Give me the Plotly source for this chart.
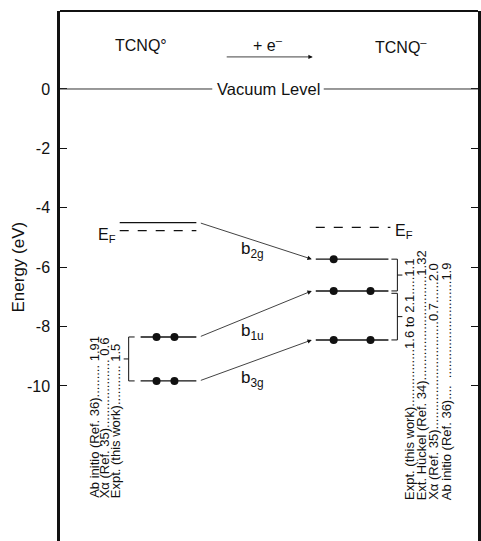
import plotly.graph_objects as go

# ---- orbital energies (eV, relative to the vacuum level) ----
orbitals = ["b2g", "b1u", "b3g"]
neutral_energy = [-4.50, -8.35, -9.83]
anion_energy = [-5.73, -6.80, -8.45]
neutral_occupancy = [0, 2, 2]
anion_occupancy = [1, 2, 2]
fermi_neutral = -4.77
fermi_anion = -4.66
vacuum_level = 0.0
energy_ticks = [0, -2, -4, -6, -8, -10]
energy_tick_text = ["0", "-2", "-4", "-6", "-8", "-10"]

# ---- quoted gaps (eV) ----
neutral_gap_sources = ["Ab initio (Ref. 36)", "Xα (Ref. 35)", "Expt. (this work)"]
neutral_gap_values = ["1.91", "0.6", "1.5"]
anion_gap_sources = ["Expt. (this work)", "Ext. Hückel (Ref. 34)", "Xα (Ref. 35)", "Ab initio (Ref. 36)"]
anion_gap_lower = ["1.6 to 2.1", "", "0.7", ""]
anion_gap_upper = ["1.1", "1.32", "2.0", "1.9"]

FONT = "Liberation Sans, Arial, Helvetica, sans-serif"
INK = "#111111"

# horizontal layout (x axis runs in plot units 60..480)
X_MIN, X_MAX = 60, 480
N_LUMO = (120, 197)          # neutral empty level and E_F
N_OCC = (141, 197)           # neutral filled levels
N_DOTS = [157, 175]
A_LVL = (317, 390)           # anion levels
A_EF = (317, 392)
A_DOTS = [335, 372]
ARROW_FROM, ARROW_TO = 200, 313

fig = go.Figure()


def level(x0, x1, e, dash="solid", width=1.4):
    fig.add_trace(go.Scatter(x=[x0, x1], y=[e, e], mode="lines",
                             line=dict(color=INK, width=width, dash=dash),
                             hoverinfo="skip", showlegend=False))


# neutral molecule levels
level(*N_LUMO, neutral_energy[0])
level(*N_LUMO, fermi_neutral, dash="dash")
for e in neutral_energy[1:]:
    level(*N_OCC, e)
# anion levels
level(*A_EF, fermi_anion, dash="dash")
for e in anion_energy:
    level(*A_LVL, e)

# electrons
dot_x, dot_y = [], []
for e, n in zip(neutral_energy, neutral_occupancy):
    for k in range(n):
        dot_x.append(N_DOTS[k]); dot_y.append(e)
for e, n in zip(anion_energy, anion_occupancy):
    for k in range(n):
        dot_x.append(A_DOTS[k]); dot_y.append(e)
fig.add_trace(go.Scatter(x=dot_x, y=dot_y, mode="markers",
                         marker=dict(color=INK, size=8), hoverinfo="skip",
                         showlegend=False))

annotations = []
shapes = []

# correlation arrows neutral -> anion
orbital_labels = {"b2g": "b<sub>2g</sub>", "b1u": "b<sub>1u</sub>", "b3g": "b<sub>3g</sub>"}
label_offset = [0.30, 0.62, 0.64]
for name, e0, e1, off in zip(orbitals, neutral_energy, anion_energy, label_offset):
    annotations.append(dict(x=ARROW_TO, y=e1, ax=ARROW_FROM, ay=e0, xref="x", yref="y",
                            axref="x", ayref="y", text="", showarrow=True,
                            arrowhead=2, arrowsize=1.1, arrowwidth=0.8,
                            arrowcolor=INK, standoff=0, startstandoff=0))
    annotations.append(dict(x=240, y=(e0 + e1) / 2 - off, xref="x", yref="y",
                            text=orbital_labels[name], showarrow=False,
                            xanchor="left", yanchor="middle",
                            font=dict(size=17, color=INK, family=FONT)))

# vacuum level line broken by its label
shapes.append(dict(type="line", x0=X_MIN, x1=213, y0=vacuum_level, y1=vacuum_level,
                   xref="x", yref="y", line=dict(color="#333", width=1)))
shapes.append(dict(type="line", x0=325, x1=X_MAX, y0=vacuum_level, y1=vacuum_level,
                   xref="x", yref="y", line=dict(color="#333", width=1)))
annotations.append(dict(x=269, y=vacuum_level, xref="x", yref="y", text="Vacuum Level",
                        showarrow=False, font=dict(size=16.5, color=INK, family=FONT)))

# species headings and the reduction arrow
annotations.append(dict(x=141, y=1.45, xref="x", yref="y", text="TCNQ°", showarrow=False,
                        font=dict(size=16, color=INK, family=FONT)))
annotations.append(dict(x=403, y=1.45, xref="x", yref="y", text="TCNQ<sup>–</sup>",
                        showarrow=False, font=dict(size=16, color=INK, family=FONT)))
annotations.append(dict(x=269, y=1.52, xref="x", yref="y", text="+ e<sup>–</sup>",
                        showarrow=False, font=dict(size=16, color=INK, family=FONT)))
annotations.append(dict(x=314, y=1.08, ax=226, ay=1.08, xref="x", yref="y",
                        axref="x", ayref="y", text="", showarrow=True, arrowhead=2,
                        arrowsize=1.1, arrowwidth=0.8, arrowcolor=INK, standoff=0))

# Fermi level labels
annotations.append(dict(x=118, y=fermi_neutral - 0.15, xref="x", yref="y",
                        text="E<sub>F</sub>", showarrow=False, xanchor="right",
                        font=dict(size=16, color=INK, family=FONT)))
annotations.append(dict(x=395, y=fermi_anion - 0.15, xref="x", yref="y",
                        text="E<sub>F</sub>", showarrow=False, xanchor="left",
                        font=dict(size=16, color=INK, family=FONT)))

# gap brackets
def bracket(x, top, bottom, tick_dir, mid_dir):
    shapes.append(dict(type="path", xref="x", yref="y",
                       path=f"M {x + 6 * tick_dir},{top} L {x},{top} L {x},{bottom} L {x + 6 * tick_dir},{bottom}",
                       line=dict(color=INK, width=1)))
    mid = (top + bottom) / 2
    shapes.append(dict(type="line", xref="x", yref="y", x0=x, x1=x + 5 * mid_dir,
                       y0=mid, y1=mid, line=dict(color=INK, width=1)))


bracket(129, neutral_energy[1], neutral_energy[2], 1, -1)
bracket(399, anion_energy[0], anion_energy[1], -1, 1)
bracket(399, anion_energy[1] - 0.08, anion_energy[2], -1, 1)

# rotated source / value columns with dotted leaders
LABEL_BASE = -13.84
neutral_cols = [94, 105, 116]
neutral_leaders = [9, 19, 11]
for x, src, val, n in zip(neutral_cols, neutral_gap_sources, neutral_gap_values, neutral_leaders):
    annotations.append(dict(x=x, y=LABEL_BASE, xref="x", yref="y",
                            text=src + "." * n + " " + val, textangle=-90,
                            showarrow=False, xanchor="center", yanchor="bottom",
                            font=dict(size=13, color=INK, family=FONT)))

anion_cols = [411, 423, 435, 448]
anion_leaders = [(16, 5), (29, 0), (30, 6), (4, 27)]
for x, src, lo, hi, (n1, n2) in zip(anion_cols, anion_gap_sources, anion_gap_lower,
                                     anion_gap_upper, anion_leaders):
    if lo:
        txt = src + "." * n1 + lo + "." * n2 + hi
    elif n2:
        txt = src + "." * n1 + "  " + "." * n2 + hi
    else:
        txt = src + "." * n1 + hi
    annotations.append(dict(x=x, y=LABEL_BASE - 0.07, xref="x", yref="y",
                            text=txt, textangle=-90, showarrow=False,
                            xanchor="center", yanchor="bottom",
                            font=dict(size=13, color=INK, family=FONT)))

# y-axis title
annotations.append(dict(x=-0.099, y=-5.99, xref="paper", yref="y", text="Energy (eV)",
                        textangle=-90, showarrow=False, xanchor="center",
                        yanchor="middle",
                        font=dict(size=17, color=INK, family=FONT)))

# top edge of the frame
shapes.append(dict(type="line", xref="paper", yref="paper", x0=0, x1=1, y0=1, y1=1,
                   line=dict(color=INK, width=2)))

fig.update_layout(
    width=481, height=541,
    margin=dict(l=60, r=1, t=11, b=0),
    paper_bgcolor="white", plot_bgcolor="white",
    showlegend=False,
    annotations=annotations, shapes=shapes,
    xaxis=dict(range=[X_MIN, X_MAX], visible=False, fixedrange=True),
    yaxis=dict(range=[-15.22, 2.626], tickvals=energy_ticks, ticktext=energy_tick_text,
               showgrid=False, zeroline=False, showline=True, linecolor=INK,
               linewidth=2.5, mirror="ticks", ticks="inside", ticklen=7,
               tickcolor=INK, tickwidth=1.2, ticklabelstandoff=4,
               tickfont=dict(size=16, color=INK, family=FONT), fixedrange=True),
)

fig.write_html("out.html")
